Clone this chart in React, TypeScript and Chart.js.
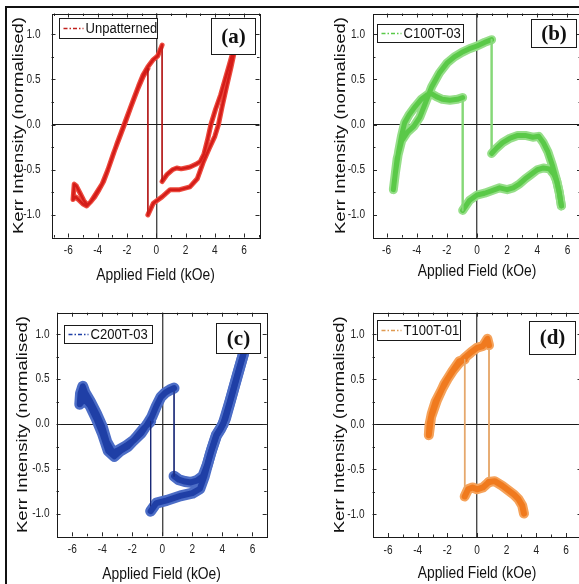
import React, { useEffect, useRef } from "react";
import { Chart, registerables } from "chart.js";

Chart.register(...registerables);

// Axis ticks shared by all four panels
const fieldTicks = [-6, -4, -2, 0, 2, 4, 6];
const fieldMinorTicks = [-7, -5, -3, -1, 1, 3, 5, 7];
const kerrTicks = [-1, -0.5, 0, 0.5, 1];
const kerrTickLabels = ["-1.0", "-0.5", "0.0", "0.5", "1.0"];
const kerrMinorTicks = [-1.25, -0.75, -0.25, 0.25, 0.75, 1.25];

// (a) Unpatterned film
const unpatternedField = [5.55, 5.3, 5.0, 4.7, 4.4, 4.05, 3.73, 3.5, 3.25, 3.0, 2.7, 2.3, 2.0, 1.7, 1.4, 1.1, 0.75, 0.4, 0.4, 0.1, -0.2, -0.57, -0.9, -1.2, -1.5, -1.8, -2.1, -2.4, -2.7, -3.0, -3.3, -3.6, -3.9, -4.2, -4.5, -4.7, -4.95, -5.2, -5.45, -5.6, -5.68, -5.5, -5.25, -5.0, -4.75, -4.45, -4.1, -3.7, -3.3, -2.9, -2.5, -2.1, -1.7, -1.3, -0.9, -0.57, -0.57, -0.2, 0.4, 0.95, 1.6, 2.3, 2.8, 3.2, 3.6, 4.0, 4.25, 4.5, 4.8, 5.1, 5.35, 5.55];
const unpatternedKerr = [1.0, 0.84, 0.67, 0.5, 0.33, 0.17, 0.0, -0.17, -0.33, -0.41, -0.44, -0.47, -0.48, -0.49, -0.48, -0.5, -0.55, -0.63, 0.88, 0.76, 0.72, 0.64, 0.55, 0.43, 0.3, 0.17, 0.04, -0.09, -0.22, -0.36, -0.5, -0.63, -0.72, -0.8, -0.86, -0.89, -0.84, -0.76, -0.68, -0.66, -0.83, -0.8, -0.84, -0.88, -0.9, -0.85, -0.76, -0.66, -0.5, -0.31, -0.14, 0.03, 0.21, 0.38, 0.53, 0.62, -1.0, -0.87, -0.8, -0.72, -0.72, -0.69, -0.6, -0.42, -0.27, -0.13, 0.0, 0.2, 0.42, 0.63, 0.82, 1.0];

// (b) C100T-03
const c100Field = [5.6, 5.45, 5.3, 5.1, 4.8, 4.4, 4.0, 3.6, 3.2, 2.8, 2.4, 2.0, 1.5, 1.0, 0.5, 0.0, -0.5, -0.95, -0.95, -1.3, -1.8, -2.3, -2.7, -3.0, -3.3, -3.7, -4.1, -4.5, -4.8, -5.0, -5.2, -5.4, -5.55, -5.3, -5.0, -4.6, -4.2, -3.8, -3.4, -3.0, -2.5, -2.0, -1.5, -1.0, -0.5, 0.0, 0.5, 0.97, 0.97, 1.3, 1.7, 2.2, 2.7, 3.2, 3.7, 4.1, 4.4, 4.7, 5.0, 5.25, 5.45, 5.6];
const c100Kerr = [-0.9, -0.74, -0.63, -0.55, -0.49, -0.48, -0.5, -0.55, -0.6, -0.66, -0.7, -0.72, -0.7, -0.73, -0.76, -0.78, -0.84, -0.95, 0.3, 0.28, 0.27, 0.28, 0.31, 0.34, 0.33, 0.28, 0.2, 0.11, 0.02, -0.12, -0.3, -0.52, -0.72, -0.38, -0.18, -0.08, -0.02, 0.08, 0.25, 0.42, 0.57, 0.68, 0.75, 0.8, 0.84, 0.87, 0.91, 0.94, -0.32, -0.26, -0.2, -0.15, -0.12, -0.12, -0.14, -0.13, -0.2, -0.3, -0.45, -0.6, -0.75, -0.9];

// (c) C200T-03
const c200Field = [5.65, 5.4, 5.1, 4.8, 4.5, 4.2, 3.9, 3.6, 3.3, 3.0, 2.7, 2.3, 1.9, 1.5, 1.1, 0.78, 0.78, 0.5, 0.2, -0.1, -0.4, -0.7, -1.0, -1.4, -1.9, -2.4, -2.9, -3.3, -3.7, -4.0, -4.4, -4.8, -5.15, -5.3, -5.45, -5.5, -5.2, -4.8, -4.4, -4.0, -3.6, -3.2, -2.8, -2.3, -1.8, -1.3, -0.78, -0.78, -0.4, 0.3, 1.2, 2.0, 2.5, 2.8, 3.2, 3.6, 4.05, 4.5, 5.0, 5.4, 5.65];
const c200Kerr = [1.0, 0.78, 0.6, 0.42, 0.24, 0.06, -0.05, -0.13, -0.28, -0.45, -0.58, -0.63, -0.65, -0.64, -0.62, -0.58, 0.4, 0.38, 0.35, 0.3, 0.2, 0.08, 0.0, -0.1, -0.18, -0.24, -0.29, -0.32, -0.2, -0.03, 0.12, 0.25, 0.35, 0.42, 0.34, 0.22, 0.28, 0.2, 0.06, -0.1, -0.3, -0.36, -0.3, -0.25, -0.16, -0.06, 0.03, -0.97, -0.88, -0.85, -0.8, -0.77, -0.72, -0.58, -0.33, -0.12, 0.0, 0.25, 0.55, 0.78, 1.0];

// (d) T100T-01
const t100Field = [3.17, 3.05, 2.8, 2.5, 2.1, 1.7, 1.2, 0.81, 0.81, 0.7, 0.4, 0.0, -0.4, -0.83, -1.2, -1.6, -2.0, -2.4, -2.8, -3.05, -3.2, -3.25, -3.1, -2.7, -2.2, -1.7, -1.2, -0.83, -0.83, -0.6, -0.3, 0.0, 0.4, 0.81];
const t100Kerr = [-0.99, -0.9, -0.83, -0.78, -0.73, -0.68, -0.63, -0.64, 0.88, 0.95, 0.87, 0.85, 0.8, 0.74, 0.68, 0.6, 0.5, 0.38, 0.25, 0.12, 0.0, -0.12, 0.08, 0.27, 0.45, 0.58, 0.7, 0.72, -0.8, -0.72, -0.7, -0.72, -0.7, -0.64];

const SANS = "'Liberation Sans', Arial, sans-serif";
const SERIF = "'Liberation Serif', 'Times New Roman', serif";
// Condensed lettering: glyphs are drawn at this fraction of their normal width
const SQUEEZE = 0.84;

type Rect = { x: number; y: number; w: number; h: number };
type PanelSpec = {
  tag: string;
  name: string;
  field: number[];
  kerr: number[];
  canvas: Rect;
  plot: { left: number; top: number; right: number; bottom: number };
  xRange: [number, number];
  yRange: [number, number];
  yTitleX: number;
  xTitleY: number;
  yTickPad: number;
  colors: { halo: string; core: string; thin: string; legend: string };
  widths: { halo: number; core: number; thin: number };
  legendBox: { dx: number; dy: number; w: number; h: number };
  tagBox: { dr: number; dy: number; w: number; h: number };
};

const isStep = (c: any) => c.p0.parsed.x === c.p1.parsed.x;

// Wraps the context's fillText so every label is set in a condensed width.
const condensedText = {
  id: "condensedText",
  beforeInit(chart: any) {
    const ctx = chart.ctx;
    const raw = ctx.fillText.bind(ctx);
    chart.$plainFillText = raw;
    ctx.fillText = (text: string, x: number, y: number) => {
      const m = ctx.getTransform();
      const rotated = Math.abs(m.b) > 1e-6;
      ctx.save();
      ctx.translate(x, y);
      if (rotated) ctx.scale(1, SQUEEZE);
      else ctx.scale(SQUEEZE, 1);
      raw(text, 0, 0);
      ctx.restore();
    };
  },
};

function decorPlugin(p: PanelSpec) {
  return {
    id: "panelDecor",
    afterDraw(chart: any) {
      const { ctx, chartArea: a, scales } = chart;
      const xs = scales.x;
      const ys = scales.y;
      ctx.save();
      ctx.strokeStyle = "#2a2a2a";
      ctx.lineWidth = 1;
      const xMarks: [number[], number][] = [[fieldTicks, 4], [fieldMinorTicks, 2.5]];
      xMarks.forEach(([vals, len]) => {
        vals.forEach((v) => {
          if (v <= p.xRange[0] || v >= p.xRange[1]) return;
          const px = Math.round(xs.getPixelForValue(v)) + 0.5;
          ctx.beginPath();
          ctx.moveTo(px, a.bottom);
          ctx.lineTo(px, a.bottom - len);
          ctx.moveTo(px, a.top);
          ctx.lineTo(px, a.top + len);
          ctx.stroke();
        });
      });
      const yMarks: [number[], number][] = [[kerrTicks, 4], [kerrMinorTicks, 2.5]];
      yMarks.forEach(([vals, len]) => {
        vals.forEach((v) => {
          if (v <= p.yRange[0] || v >= p.yRange[1]) return;
          const py = Math.round(ys.getPixelForValue(v)) + 0.5;
          ctx.beginPath();
          ctx.moveTo(a.left, py);
          ctx.lineTo(a.left + len, py);
          ctx.moveTo(a.right, py);
          ctx.lineTo(a.right - len, py);
          ctx.stroke();
        });
      });
      // plot frame
      ctx.strokeStyle = "#1a1a1a";
      ctx.strokeRect(Math.round(a.left) + 0.5, Math.round(a.top) + 0.5, Math.round(a.right - a.left), Math.round(a.bottom - a.top));

      // legend box
      const lb = p.legendBox;
      const lx = Math.round(a.left + lb.dx) + 0.5;
      const ly = Math.round(a.top + lb.dy) + 0.5;
      ctx.fillStyle = "#ffffff";
      ctx.fillRect(lx, ly, lb.w, lb.h);
      ctx.strokeStyle = "#1a1a1a";
      ctx.strokeRect(lx, ly, lb.w, lb.h);
      ctx.strokeStyle = p.colors.legend;
      ctx.lineWidth = 1.3;
      ctx.setLineDash([4, 2, 1.5, 2]);
      ctx.beginPath();
      ctx.moveTo(lx + 4, ly + lb.h / 2);
      ctx.lineTo(lx + 24, ly + lb.h / 2);
      ctx.stroke();
      ctx.setLineDash([]);
      ctx.fillStyle = "#111";
      ctx.font = `15.5px ${SANS}`;
      ctx.textBaseline = "middle";
      ctx.textAlign = "left";
      ctx.fillText(p.name, lx + 26, ly + lb.h / 2 + 0.5);

      // panel tag box
      const tb = p.tagBox;
      const tx = Math.round(a.right - tb.dr - tb.w) + 0.5;
      const ty = Math.round(a.top + tb.dy) + 0.5;
      ctx.fillStyle = "#ffffff";
      ctx.fillRect(tx, ty, tb.w, tb.h);
      ctx.lineWidth = 1;
      ctx.strokeStyle = "#1a1a1a";
      ctx.strokeRect(tx, ty, tb.w, tb.h);
      ctx.fillStyle = "#111";
      ctx.font = `bold 21px ${SERIF}`;
      ctx.textAlign = "center";
      chart.$plainFillText(p.tag, tx + tb.w / 2, ty + tb.h / 2 + 1);
      ctx.restore();
    },
  };
}

function buildConfig(p: PanelSpec): any {
  const pts = p.field.map((x, i) => ({ x, y: p.kerr[i] }));
  const c = p.canvas;
  const yAxisWidth = p.plot.left - c.x;
  const xAxisHeight = c.y + c.h - p.plot.bottom;
  const yTitleSize = 18.5;
  const xTitleSize = 16.5;
  const line = (color: string, width: number, thinColor: string, order: number) => ({
    data: pts,
    showLine: true,
    pointRadius: 0,
    pointHoverRadius: 0,
    pointHitRadius: 0,
    borderColor: color,
    borderWidth: width,
    borderJoinStyle: "round",
    borderCapStyle: "round",
    tension: 0,
    order,
    segment: {
      borderWidth: (s: any) => (isStep(s) ? p.widths.thin : width),
      borderColor: (s: any) => (isStep(s) ? thinColor : color),
    },
  });
  return {
    type: "scatter",
    data: {
      datasets: [
        line(p.colors.halo, p.widths.halo, p.colors.thin, 2),
        line(p.colors.core, p.widths.core, p.colors.thin, 1),
      ],
    },
    options: {
      animation: false,
      responsive: false,
      maintainAspectRatio: false,
      events: [],
      layout: {
        autoPadding: false,
        padding: { top: p.plot.top - c.y, right: c.x + c.w - p.plot.right, bottom: 0, left: 0 },
      },
      plugins: { legend: { display: false }, tooltip: { enabled: false }, title: { display: false } },
      scales: {
        x: {
          type: "linear",
          min: p.xRange[0],
          max: p.xRange[1],
          afterBuildTicks: (s: any) => {
            s.ticks = fieldTicks.map((v) => ({ value: v }));
          },
          afterFit: (s: any) => {
            s.height = xAxisHeight;
            s.paddingLeft = 0;
            s.paddingRight = 0;
          },
          ticks: {
            autoSkip: false,
            maxRotation: 0,
            padding: 6,
            color: "#222",
            font: { family: SANS, size: 12, lineHeight: 1.2 },
            callback: (v: number) => String(v),
          },
          grid: {
            drawTicks: false,
            color: (g: any) => (g.tick && g.tick.value === 0 ? "#4a4a4a" : "rgba(0,0,0,0)"),
            lineWidth: 1.4,
          },
          border: { display: false },
          title: {
            display: true,
            text: "Applied Field (kOe)",
            color: "#111",
            font: { family: SANS, size: xTitleSize, lineHeight: 1 },
            padding: { top: 0, bottom: c.y + c.h - p.xTitleY - xTitleSize / 2 },
          },
        },
        y: {
          type: "linear",
          min: p.yRange[0],
          max: p.yRange[1],
          afterBuildTicks: (s: any) => {
            s.ticks = kerrTicks.map((v) => ({ value: v }));
          },
          afterFit: (s: any) => {
            s.width = yAxisWidth;
            s.paddingTop = 0;
            s.paddingBottom = 0;
          },
          ticks: {
            autoSkip: false,
            padding: p.yTickPad,
            color: "#222",
            font: { family: SANS, size: 12 },
            callback: (_v: number, i: number) => kerrTickLabels[i],
          },
          grid: {
            drawTicks: false,
            color: (g: any) => (g.tick && g.tick.value === 0 ? "#1a1a1a" : "rgba(0,0,0,0)"),
            lineWidth: 1,
          },
          border: { display: false },
          title: {
            display: true,
            text: "Kerr Intensity (normalised)",
            color: "#111",
            font: { family: SANS, size: yTitleSize, lineHeight: 1 },
            padding: { top: p.yTitleX - c.x - yTitleSize / 2, bottom: 0 },
          },
        },
      },
    },
    plugins: [condensedText, decorPlugin(p)],
  };
}

function HysteresisPanel({ spec }: { spec: PanelSpec }) {
  const ref = useRef<HTMLCanvasElement | null>(null);
  useEffect(() => {
    if (!ref.current) return;
    const chart = new Chart(ref.current, buildConfig(spec));
    return () => chart.destroy();
  }, [spec]);
  const c = spec.canvas;
  return (
    <canvas
      ref={ref}
      width={c.w}
      height={c.h}
      style={{ position: "absolute", left: c.x, top: c.y, width: c.w, height: c.h }}
    />
  );
}

const panels: PanelSpec[] = [
  {
    tag: "(a)",
    name: "Unpatterned",
    field: unpatternedField,
    kerr: unpatternedKerr,
    canvas: { x: 8, y: 8, w: 282, h: 284 },
    plot: { left: 51.5, top: 13.5, right: 259.5, bottom: 237.5 },
    xRange: [-7.15, 7.05],
    yRange: [-1.25, 1.23],
    yTitleX: 18.5,
    xTitleY: 275,
    yTickPad: 11,
    colors: { halo: "#ec4a3e", core: "#d41c18", thin: "#b21414", legend: "#c0201c" },
    widths: { halo: 5, core: 2.5, thin: 1.2 },
    legendBox: { dx: 7.5, dy: 4, w: 98, h: 20 },
    tagBox: { dr: 5, dy: 4, w: 44, h: 36 },
  },
  {
    tag: "(b)",
    name: "C100T-03",
    field: c100Field,
    kerr: c100Kerr,
    canvas: { x: 296, y: 8, w: 300, h: 284 },
    plot: { left: 373, top: 13.5, right: 581, bottom: 237.5 },
    xRange: [-6.9, 6.9],
    yRange: [-1.25, 1.23],
    yTitleX: 341,
    xTitleY: 271,
    yTickPad: 8,
    colors: { halo: "#95de88", core: "#5ac948", thin: "#86d878", legend: "#5ac948" },
    widths: { halo: 9, core: 5, thin: 2 },
    legendBox: { dx: 3.5, dy: 10, w: 86, h: 18 },
    tagBox: { dr: 5, dy: 5, w: 45, h: 28 },
  },
  {
    tag: "(c)",
    name: "C200T-03",
    field: c200Field,
    kerr: c200Kerr,
    canvas: { x: 8, y: 298, w: 282, h: 286 },
    plot: { left: 56.5, top: 312.7, right: 266.7, bottom: 536.3 },
    xRange: [-7.05, 6.95],
    yRange: [-1.25, 1.24],
    yTitleX: 23,
    xTitleY: 574.5,
    yTickPad: 7,
    colors: { halo: "#4c6dc6", core: "#1f3fa6", thin: "#1a2a78", legend: "#1f3fa6" },
    widths: { halo: 11, core: 6, thin: 1.2 },
    legendBox: { dx: 7, dy: 12, w: 88, h: 18 },
    tagBox: { dr: 7, dy: 10, w: 44, h: 30 },
  },
  {
    tag: "(d)",
    name: "T100T-01",
    field: t100Field,
    kerr: t100Kerr,
    canvas: { x: 296, y: 298, w: 300, h: 286 },
    plot: { left: 372.5, top: 312.7, right: 581.5, bottom: 537 },
    xRange: [-7.05, 7.05],
    yRange: [-1.25, 1.24],
    yTitleX: 340,
    xTitleY: 573.5,
    yTickPad: 8,
    colors: { halo: "#f5a25a", core: "#f07a1e", thin: "#e6a86c", legend: "#e09a50" },
    widths: { halo: 10, core: 6, thin: 1.5 },
    legendBox: { dx: 4, dy: 7.5, w: 83, h: 20 },
    tagBox: { dr: 7, dy: 8, w: 46, h: 33 },
  },
];

export default function App() {
  return (
    <div
      style={{
        position: "absolute",
        left: 0,
        top: 0,
        width: 579,
        height: 584,
        overflow: "hidden",
        background: "#ffffff",
      }}
    >
      <div
        style={{
          position: "absolute",
          left: 5,
          top: 6,
          width: 600,
          height: 600,
          borderLeft: "2px solid #111",
          borderTop: "2px solid #111",
        }}
      />
      {panels.map((s) => (
        <HysteresisPanel key={s.tag} spec={s} />
      ))}
    </div>
  );
}
